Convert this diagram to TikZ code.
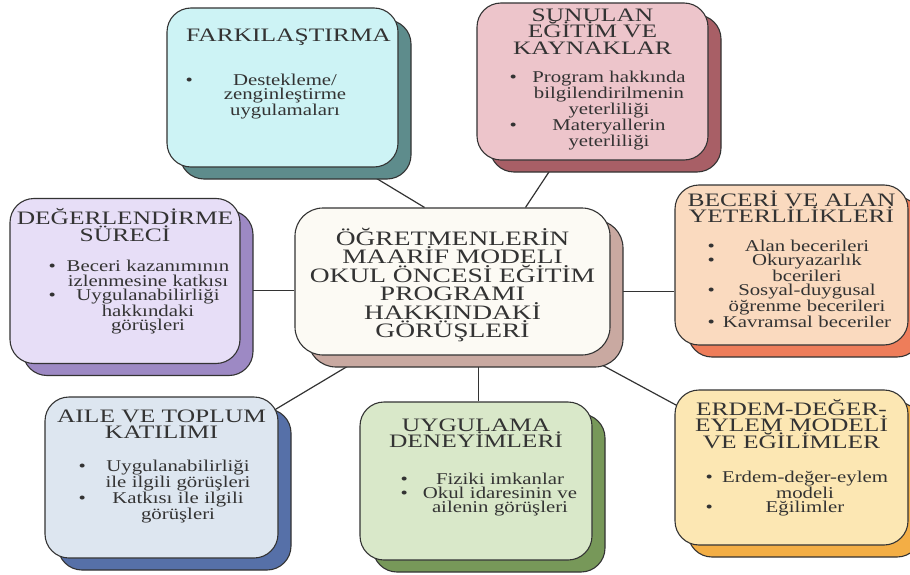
\documentclass[tikz,border=0pt]{standalone}
\usepackage{fontspec}
\setmainfont{Liberation Serif}[FakeStretch=1.26]
\newfontfamily\ttlfont{Liberation Serif}[FakeStretch=1.34]
\usepackage{xcolor}
\usetikzlibrary{shadows, backgrounds}

\definecolor{farkfill}{HTML}{CDF3F5}
\definecolor{farkshad}{HTML}{5E8C8C}
\definecolor{sunufill}{HTML}{EDC5CB}
\definecolor{sunushad}{HTML}{A85F66}
\definecolor{degrfill}{HTML}{E7DEF7}
\definecolor{degrshad}{HTML}{9D89C4}
\definecolor{centfill}{HTML}{FCFAF4}
\definecolor{centshad}{HTML}{C9A9A1}
\definecolor{becefill}{HTML}{FADABF}
\definecolor{beceshad}{HTML}{EE7D5A}
\definecolor{ailefill}{HTML}{DDE6F0}
\definecolor{aileshad}{HTML}{5670A8}
\definecolor{uygufill}{HTML}{D9E8C9}
\definecolor{uygushad}{HTML}{779859}
\definecolor{erdefill}{HTML}{FCE7B3}
\definecolor{erdeshad}{HTML}{F3AE45}
\definecolor{inkgray}{HTML}{333333}

% bullet at the left, text centred in the column
\newcommand{\bitem}[1]{\noindent\llap{\textbullet\hspace{6pt}}%
  \parbox[t]{\linewidth}{\centering #1\par\xdef\itdp{\the\prevdepth}}\par\prevdepth=\itdp\relax}

\begin{document}
\begin{tikzpicture}[x=1pt, y=-1pt,
    tbox/.style 2 args={rectangle, rounded corners=24pt, draw=inkgray, line width=1.1pt, fill=#1, inner sep=0pt,
        drop shadow={shadow xshift=13pt, shadow yshift=-12pt, fill=#2, draw=inkgray, line width=1.1pt, opacity=1}},
    ttl/.style={text width=250pt, align=center, text=inkgray, font=\ttlfont\fontsize{19}{16.5}\selectfont, inner sep=0pt, anchor=base},
    itm/.style={text width=172pt, align=center, text=inkgray, font=\fontsize{16.5}{14.2}\selectfont, inner sep=0pt, anchor=base},
    link/.style={draw=inkgray, line width=1.2pt}
    ]
    \useasboundingbox (0,0) rectangle (910,575);

    % boxes
    \node [tbox={centfill}{centshad}, minimum width=315pt, minimum height=147pt, rounded corners=28pt] (cent) at (452.5,281.5) {};
    \node [tbox={farkfill}{farkshad}, minimum width=231pt, minimum height=159pt] (fark) at (282.5,87.5) {};
    \node [tbox={sunufill}{sunushad}, minimum width=231pt, minimum height=157pt] (sunu) at (592.5,81.5) {};
    \node [tbox={degrfill}{degrshad}, minimum width=230pt, minimum height=165pt] (degr) at (125,281) {};
    \node [tbox={becefill}{beceshad}, minimum width=233pt, minimum height=160pt] (bece) at (791.5,265) {};
    \node [tbox={ailefill}{aileshad}, minimum width=233pt, minimum height=161pt] (aile) at (161.5,477.5) {};
    \node [tbox={uygufill}{uygushad}, minimum width=232pt, minimum height=158pt] (uygu) at (476,481) {};
    \node [tbox={erdefill}{erdeshad}, minimum width=233pt, minimum height=155pt] (erde) at (791.5,467.5) {};

    % texts
    \node [ttl, text width=320pt, font=\ttlfont\fontsize{20.5}{18.5}\selectfont] (cent-t) at ([yshift=-38pt]cent.north)
        {ÖĞRETMENLERİN\\MAARİF MODELI\\OKUL ÖNCESİ EĞİTİM\\PROGRAMI\\HAKKINDAKİ\\GÖRÜŞLERİ};

    \node [ttl] (fark-t) at ([xshift=6pt, yshift=-34pt]fark.north) {FARKILAŞTIRMA};
    \node [itm] (fark-i) at ([xshift=2.5pt, yshift=-78pt]fark.north)
        {\bitem{Destekleme/\\zenginleştirme\\uygulamaları}};

    \node [ttl] (sunu-t) at ([yshift=-19pt]sunu.north) {SUNULAN\\EĞİTİM VE\\KAYNAKLAR};
    \node [itm] (sunu-i) at ([xshift=16.5pt, yshift=-80pt]sunu.north)
        {\bitem{Program hakkında\\bilgilendirilmenin\\yeterliliği}\bitem{Materyallerin\\yeterliliği}};

    \node [ttl] (degr-t) at ([yshift=-27pt]degr.north) {DEĞERLENDİRME\\SÜRECİ};
    \node [itm] (degr-i) at ([xshift=23pt, yshift=-74pt]degr.north)
        {\bitem{Beceri kazanımının\\izlenmesine katkısı}\bitem{Uygulanabilirliği\\hakkındaki\\görüşleri}};

    \node [ttl] (bece-t) at ([yshift=-22pt]bece.north) {BECERİ VE ALAN\\YETERLİLİKLERİ};
    \node [itm] (bece-i) at ([xshift=15.5pt, yshift=-67pt]bece.north)
        {\bitem{Alan becerileri}\bitem{Okuryazarlık\\bcerileri}\bitem{Sosyal-duygusal\\öğrenme becerileri}\bitem{Kavramsal beceriler}};

    \node [ttl] (aile-t) at ([yshift=-26pt]aile.north) {AILE VE TOPLUM\\KATILIMI};
    \node [itm] (aile-i) at ([xshift=16.5pt, yshift=-75pt]aile.north)
        {\bitem{Uygulanabilirliği\\ile ilgili görüşleri}\bitem{Katkısı ile ilgili\\görüşleri}};

    \node [ttl] (uygu-t) at ([yshift=-30pt]uygu.north) {UYGULAMA\\DENEYİMLERİ};
    \node [itm] (uygu-i) at ([xshift=24pt, yshift=-83pt]uygu.north)
        {\bitem{Fiziki imkanlar}\bitem{Okul idaresinin ve\\ailenin görüşleri}};

    \node [ttl] (erde-t) at ([yshift=-26pt]erde.north) {ERDEM-DEĞER-\\EYLEM MODELİ\\VE EĞİLİMLER};
    \node [itm] (erde-i) at ([xshift=13.5pt, yshift=-93pt]erde.north)
        {\bitem{Erdem-değer-eylem\\modeli}\bitem{Eğilimler}};

    % connectors, behind the boxes
    \begin{scope}[on background layer]
        \draw [link] ([xshift=76pt]fark.south) -- ([xshift=-28pt]cent.north);
        \draw [link] ([xshift=-36pt]sunu.south) -- ([xshift=73pt]cent.north);
        \draw [link] ([yshift=-9pt]cent.west) -- ([yshift=-9pt]cent.west -| degr.east);
        \draw [link] ([yshift=-10pt]cent.east) -- ([yshift=-10pt]cent.east -| bece.west);
        \draw [link] ([xshift=-87pt]cent.south) -- (aile.center);
        \draw [link] ([xshift=26pt]cent.south) -- ([xshift=26pt]cent.south |- uygu.north);
        \draw [link] ([xshift=132pt]cent.south) -- (erde.center);
    \end{scope}
\end{tikzpicture}
\end{document}
